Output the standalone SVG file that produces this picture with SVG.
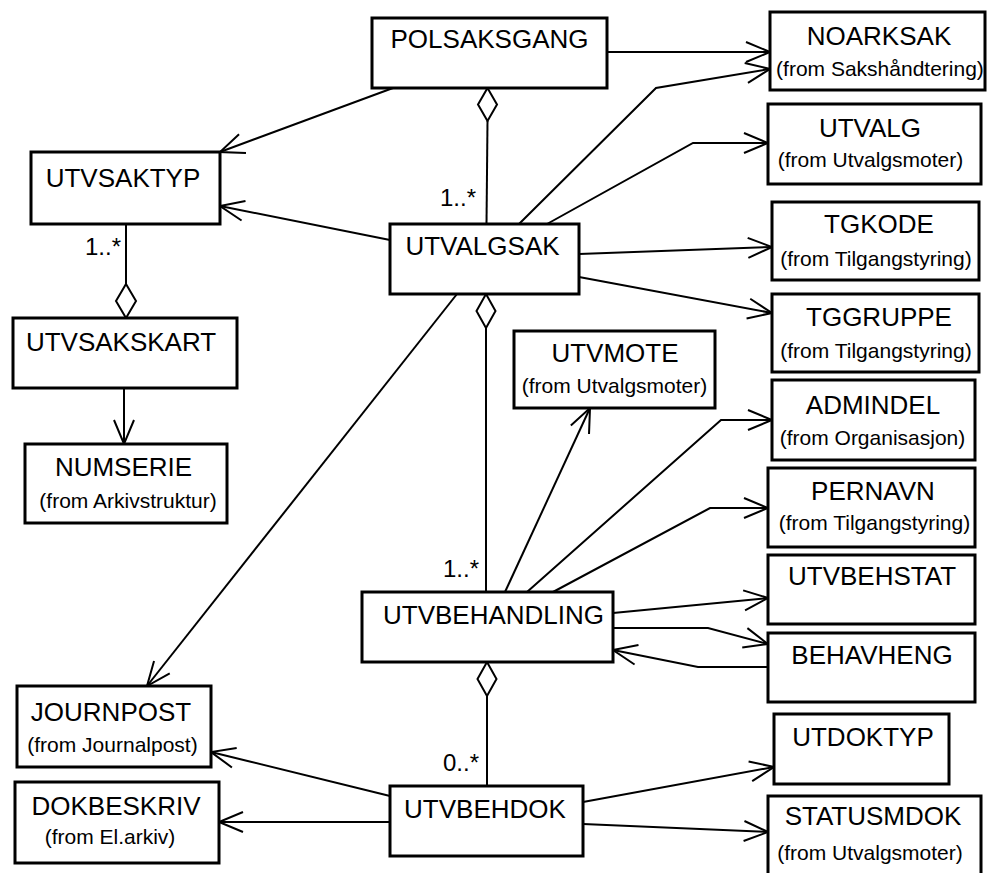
<svg xmlns="http://www.w3.org/2000/svg" width="987" height="873" viewBox="0 0 987 873">
<style>
.box{fill:#fff;stroke:#000;stroke-width:3}
.n{font-family:"Liberation Sans",Arial,sans-serif;font-size:26px;fill:#000;text-anchor:middle}
.s{font-family:"Liberation Sans",Arial,sans-serif;font-size:21px;fill:#000;text-anchor:middle}
.m{font-family:"Liberation Sans",Arial,sans-serif;font-size:24px;fill:#000}
.c{fill:none;stroke:#000;stroke-width:2}
.a{fill:none;stroke:#000;stroke-width:2;marker-end:url(#arr)}
.d{fill:#fff;stroke:#000;stroke-width:2}
</style>
<defs>
<marker id="arr" viewBox="-27 -13 30 26" refX="0" refY="0" markerWidth="30" markerHeight="26" orient="auto" markerUnits="userSpaceOnUse">
<path d="M-24,-10 L0,0 L-24,10" fill="none" stroke="#000" stroke-width="2"/>
</marker>
</defs>
<rect width="987" height="873" fill="#fff"/>
<g id="connectors">
<path class="a" d="M607,52 L770,52"/>
<path class="a" d="M393,88 L220,152"/>
<path class="c" d="M487.5,121 L486.5,224"/>
<polygon class="d" points="487.5,88 497,104.5 487.5,121 478,104.5"/>
<path class="a" d="M390,240 L220,206"/>
<path class="c" d="M126,224 L126,284"/>
<polygon class="d" points="126,284 136,301 126,318 116,301"/>
<path class="a" d="M124,388 L124,444"/>
<path class="a" d="M519,224 L656,88 L770,69"/>
<path class="a" d="M547,224 L693,143 L768,143"/>
<path class="a" d="M579,254 L772,247"/>
<path class="a" d="M579,277 L772,313"/>
<path class="c" d="M486,328 L486,592"/>
<polygon class="d" points="486,294 495.5,311 486,328 476.5,311"/>
<path class="a" d="M457,294 L147,686"/>
<path class="a" d="M505,592 L590,408"/>
<path class="a" d="M527,592 L721,420 L772,420"/>
<path class="a" d="M553,592 L710,508 L768,508"/>
<path class="a" d="M613,613 L768,598"/>
<path class="a" d="M613,628 L708,628 L768,644"/>
<path class="a" d="M768,667 L698,667 L613,650"/>
<path class="c" d="M487,696 L487,786"/>
<polygon class="d" points="487,662 496.5,679 487,696 477.5,679"/>
<path class="a" d="M390,796 L211,752"/>
<path class="a" d="M390,822 L219,822"/>
<path class="a" d="M583,802 L774,767"/>
<path class="a" d="M583,824 L768,832"/>
<text class="m" x="440" y="206">1..*</text>
<text class="m" x="85" y="255">1..*</text>
<text class="m" x="443" y="577">1..*</text>
<text class="m" x="443" y="771">0..*</text>
</g>
<g id="POLSAKSGANG"><rect class="box" x="372" y="18" width="235" height="70"/><text class="n" x="489.5" y="48">POLSAKSGANG</text></g>
<g id="NOARKSAK"><rect class="box" x="770" y="12" width="215" height="78"/><text class="n" x="879" y="45">NOARKSAK</text><text class="s" x="880" y="76">(from Sakshåndtering)</text></g>
<g id="UTVALG"><rect class="box" x="768" y="104" width="213" height="80"/><text class="n" x="870" y="137">UTVALG</text><text class="s" x="870.5" y="167">(from Utvalgsmoter)</text></g>
<g id="TGKODE"><rect class="box" x="772" y="202" width="207" height="78"/><text class="n" x="879" y="233">TGKODE</text><text class="s" x="876" y="266">(from Tilgangstyring)</text></g>
<g id="TGGRUPPE"><rect class="box" x="772" y="294" width="207" height="78"/><text class="n" x="879" y="326">TGGRUPPE</text><text class="s" x="876" y="358">(from Tilgangstyring)</text></g>
<g id="ADMINDEL"><rect class="box" x="772" y="380" width="203" height="80"/><text class="n" x="873" y="414">ADMINDEL</text><text class="s" x="872.5" y="445">(from Organisasjon)</text></g>
<g id="PERNAVN"><rect class="box" x="768" y="468" width="207" height="79"/><text class="n" x="873" y="500">PERNAVN</text><text class="s" x="874.5" y="530">(from Tilgangstyring)</text></g>
<g id="UTVBEHSTAT"><rect class="box" x="768" y="555" width="207" height="69"/><text class="n" x="872" y="585">UTVBEHSTAT</text></g>
<g id="BEHAVHENG"><rect class="box" x="768" y="633" width="207" height="69"/><text class="n" x="872" y="664">BEHAVHENG</text></g>
<g id="UTDOKTYP"><rect class="box" x="774" y="714" width="175" height="70"/><text class="n" x="863" y="746">UTDOKTYP</text></g>
<g id="STATUSMDOK"><rect class="box" x="768" y="796" width="213" height="90"/><text class="n" x="873" y="825">STATUSMDOK</text><text class="s" x="870" y="860">(from Utvalgsmoter)</text></g>
<g id="UTVMOTE"><rect class="box" x="514" y="331" width="201" height="77"/><text class="n" x="615" y="362">UTVMOTE</text><text class="s" x="614.5" y="393">(from Utvalgsmoter)</text></g>
<g id="UTVSAKTYP"><rect class="box" x="31" y="152" width="189" height="72"/><text class="n" x="123" y="187">UTVSAKTYP</text></g>
<g id="UTVALGSAK"><rect class="box" x="390" y="224" width="189" height="70"/><text class="n" x="482.5" y="255">UTVALGSAK</text></g>
<g id="UTVSAKSKART"><rect class="box" x="13" y="318" width="224" height="70"/><text class="n" x="121" y="351">UTVSAKSKART</text></g>
<g id="NUMSERIE"><rect class="box" x="25" y="444" width="202" height="79"/><text class="n" x="123.5" y="476">NUMSERIE</text><text class="s" x="128" y="508">(from Arkivstruktur)</text></g>
<g id="JOURNPOST"><rect class="box" x="17" y="686" width="194" height="81"/><text class="n" x="111" y="721">JOURNPOST</text><text class="s" x="112.5" y="752">(from Journalpost)</text></g>
<g id="DOKBESKRIV"><rect class="box" x="15" y="782" width="204" height="81"/><text class="n" x="116" y="815">DOKBESKRIV</text><text class="s" x="110" y="844">(from El.arkiv)</text></g>
<g id="UTVBEHANDLING"><rect class="box" x="362" y="592" width="251" height="70"/><text class="n" x="493.5" y="624">UTVBEHANDLING</text></g>
<g id="UTVBEHDOK"><rect class="box" x="390" y="786" width="193" height="70"/><text class="n" x="485" y="818">UTVBEHDOK</text></g>
</svg>
